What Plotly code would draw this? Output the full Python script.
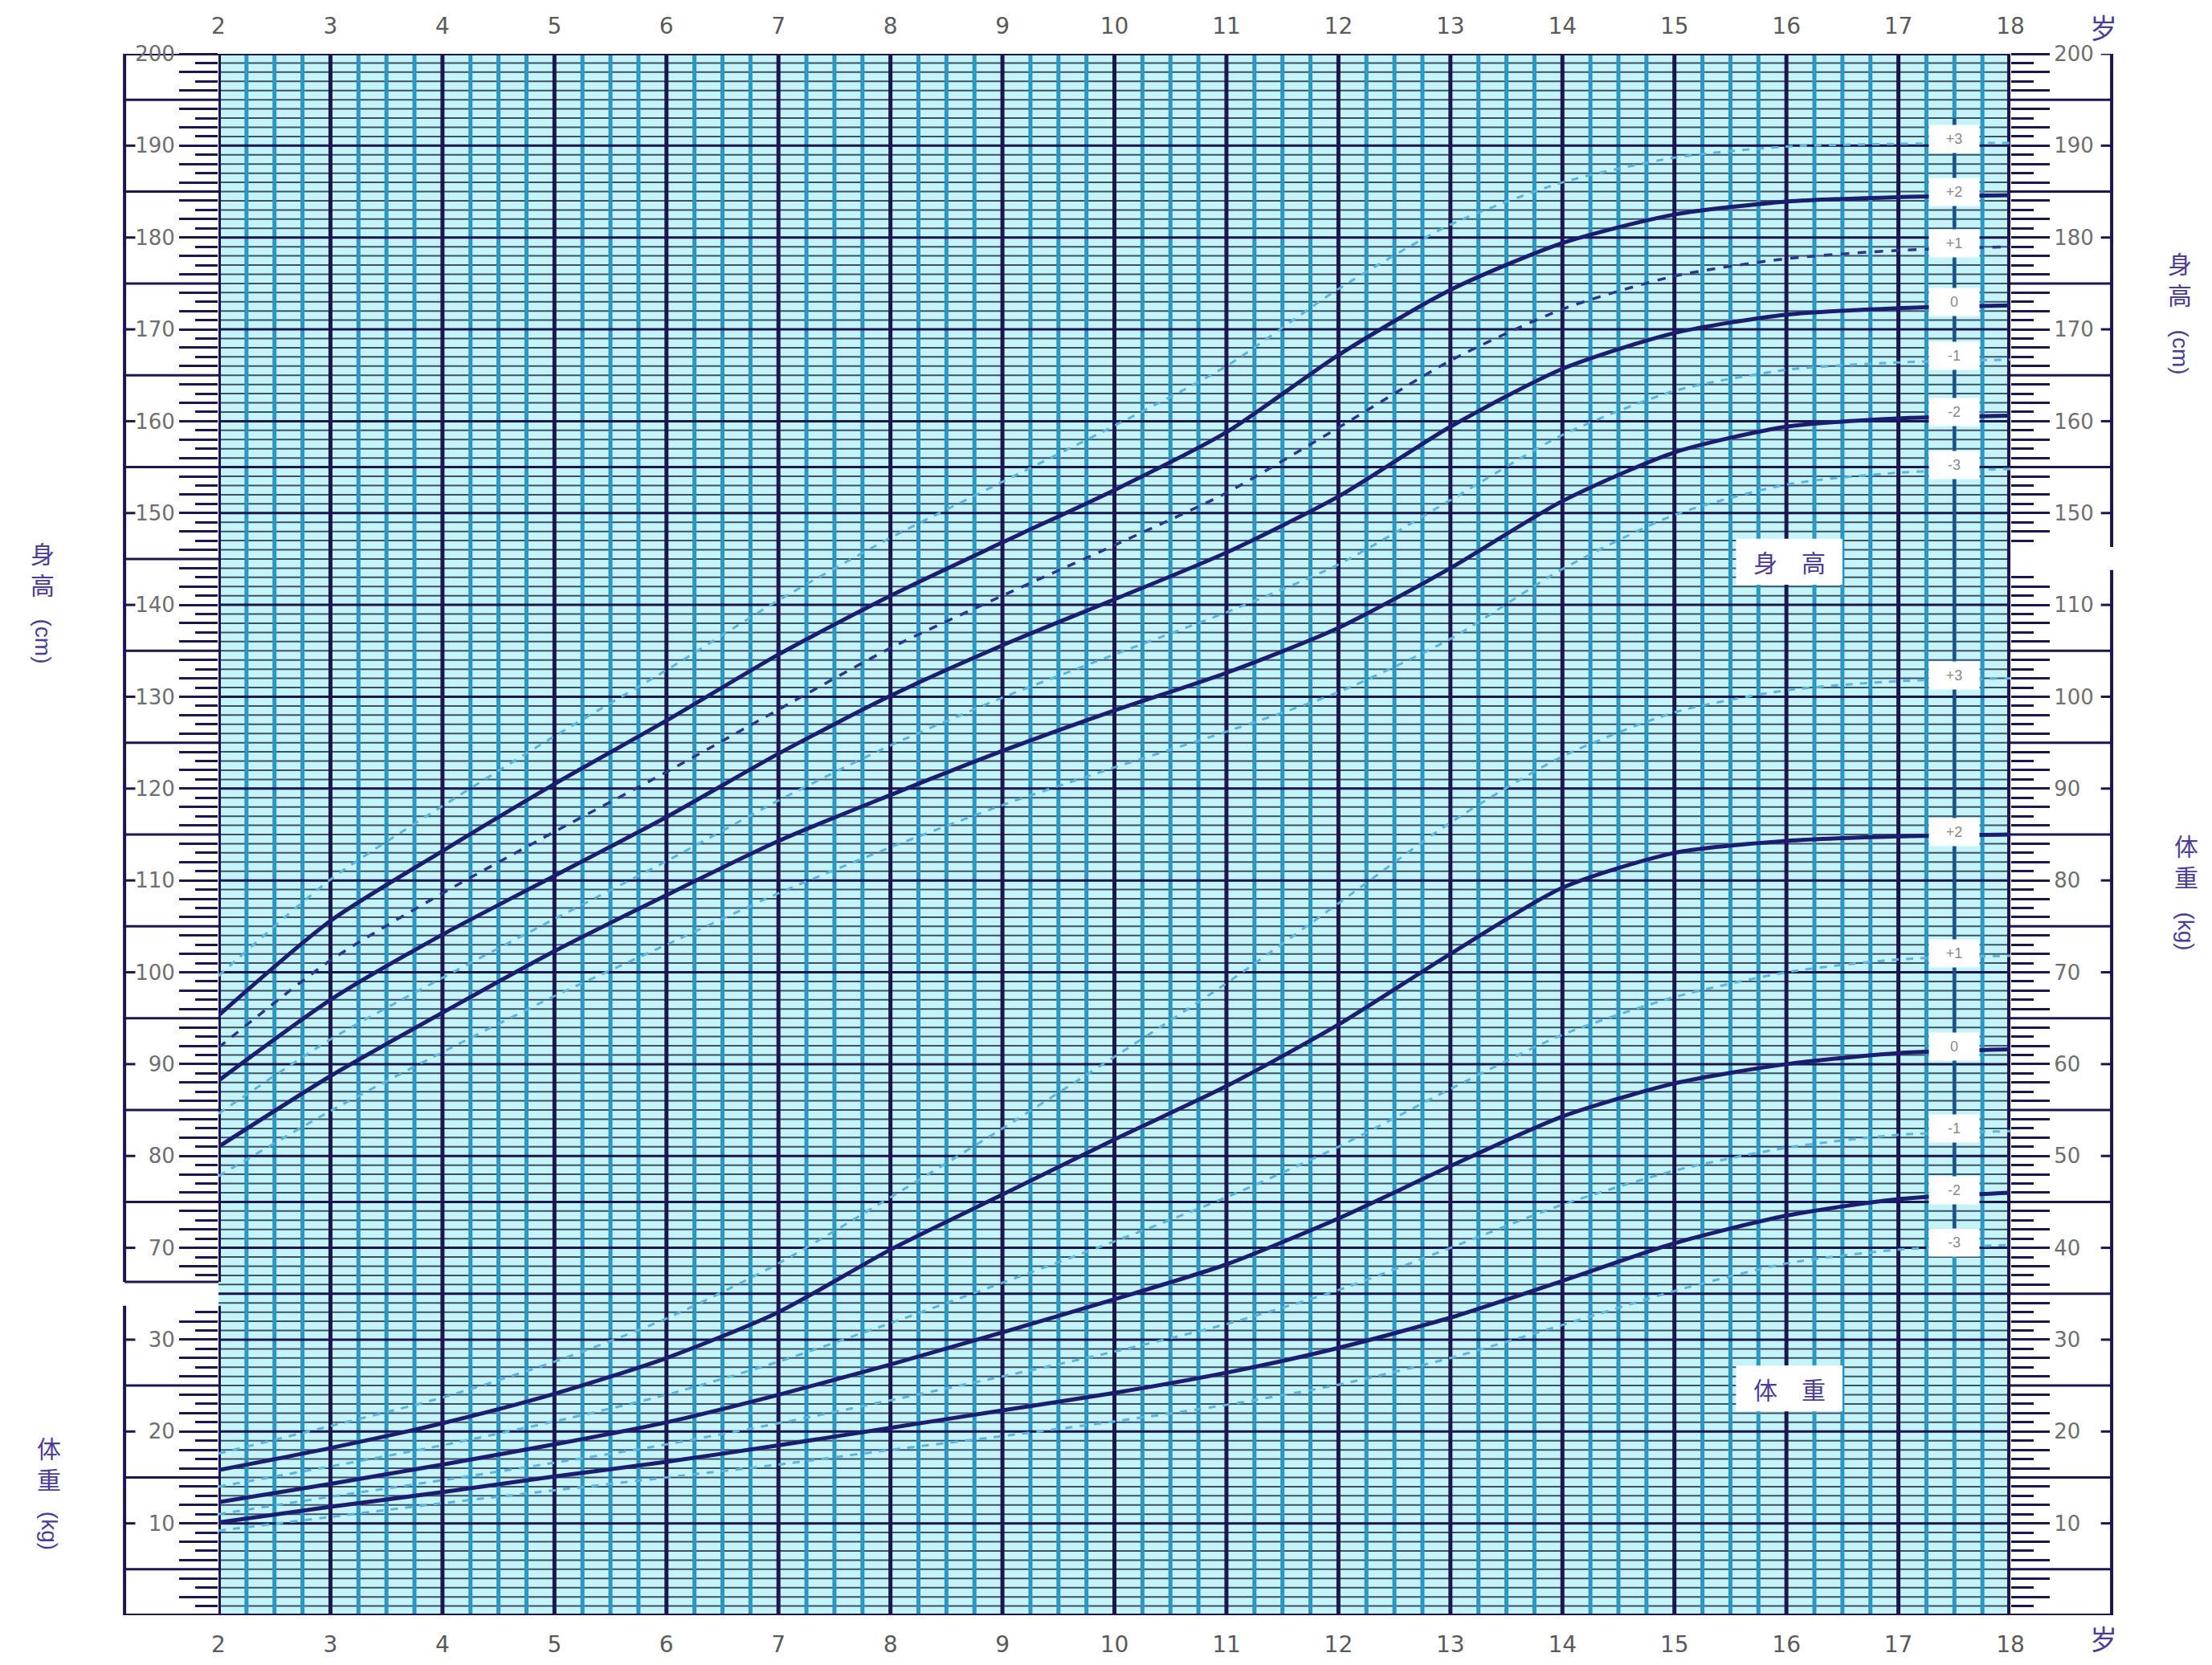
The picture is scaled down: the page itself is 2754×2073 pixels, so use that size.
import plotly.graph_objects as go

# Ages (years) at which the curves are read
ages = list(range(2, 19))
age_labels = [str(a) for a in ages]

# Height (cm), boys, SD lines
height_p3 = [99.6, 110.1, 118.1, 125.7, 132.9, 140.5, 147.3, 153.4, 159.5, 166.0, 174.4, 181.4, 186.0, 188.7, 189.9, 190.2, 190.3]
height_p2 = [95.3, 105.6, 113.2, 120.5, 127.4, 134.6, 141.0, 146.8, 152.5, 158.8, 167.2, 174.3, 179.4, 182.5, 183.9, 184.4, 184.6]
height_p1 = [91.8, 101.3, 108.6, 115.3, 121.8, 128.6, 135.3, 141.0, 146.5, 152.2, 159.3, 166.6, 172.2, 175.8, 177.7, 178.6, 179.0]
height_0 = [88.2, 97.0, 104.1, 110.5, 116.9, 123.8, 130.1, 135.6, 140.6, 145.7, 151.8, 159.4, 165.7, 169.6, 171.6, 172.3, 172.6]
height_m1 = [84.6, 92.7, 99.4, 105.8, 112.1, 118.7, 124.7, 129.9, 134.6, 139.2, 144.4, 151.4, 158.5, 163.3, 165.6, 166.4, 166.7]
height_m2 = [81.0, 88.7, 95.6, 102.3, 108.4, 114.3, 119.3, 124.1, 128.5, 132.6, 137.5, 144.0, 151.3, 156.6, 159.4, 160.3, 160.6]
height_m3 = [77.8, 84.9, 91.3, 97.4, 103.0, 108.6, 113.6, 118.2, 122.3, 126.2, 130.5, 136.3, 143.9, 149.8, 153.1, 154.4, 154.8]

# Weight (kg), boys, SD lines
weight_p3 = [17.6, 20.6, 23.7, 27.6, 32.3, 38.3, 45.5, 53.0, 60.8, 68.8, 77.5, 86.3, 93.5, 98.3, 100.7, 101.7, 102.0]
weight_p2 = [15.8, 18.2, 20.9, 24.1, 28.0, 33.0, 39.8, 45.8, 51.8, 57.6, 64.3, 72.0, 79.2, 83.0, 84.3, 84.8, 85.0]
weight_p1 = [14.0, 16.2, 18.5, 21.1, 24.0, 27.6, 31.8, 36.2, 40.7, 45.5, 51.0, 57.3, 63.2, 67.3, 70.0, 71.4, 71.8]
weight_0 = [12.3, 14.3, 16.4, 18.6, 21.0, 24.0, 27.3, 30.8, 34.4, 38.2, 43.2, 48.9, 54.3, 57.9, 60.0, 61.2, 61.6]
weight_m1 = [11.0, 12.9, 14.7, 16.6, 18.6, 20.9, 23.4, 26.0, 28.7, 31.7, 35.4, 40.0, 44.7, 48.4, 50.9, 52.3, 52.7]
weight_m2 = [10.1, 11.8, 13.4, 15.1, 16.7, 18.5, 20.4, 22.3, 24.2, 26.4, 29.1, 32.4, 36.4, 40.5, 43.5, 45.3, 46.0]
weight_m3 = [9.2, 10.7, 12.2, 13.6, 15.0, 16.4, 18.0, 19.5, 21.1, 22.9, 25.1, 28.0, 31.6, 35.3, 38.3, 39.8, 40.3]

sd_names = ["+3", "+2", "+1", "0", "-1", "-2", "-3"]
height_curves = [height_p3, height_p2, height_p1, height_0, height_m1, height_m2, height_m3]
weight_curves = [weight_p3, weight_p2, weight_p1, weight_0, weight_m1, weight_m2, weight_m3]

# colours
NAVY = "#1b1d70"
DARKDASH = "#2a3592"
LIGHT = "#5ab4e2"
GRID = "#3d5063"
TEAL = "#2b96c2"
FRAME = "#1a1650"
TXT = "#4b3c96"

solid = dict(color=NAVY, width=5)
dark_dash = dict(color=DARKDASH, width=3.5, dash="dash")
light_dash = dict(color=LIGHT, width=3, dash="dash")
height_styles = [light_dash, solid, dark_dash, solid, light_dash, solid, light_dash]
weight_styles = [light_dash, solid, light_dash, solid, light_dash, solid, light_dash]

fig = go.Figure()

# height on the left (cm) axis
for name, ys, st in zip(sd_names, height_curves, height_styles):
    fig.add_trace(go.Scatter(
        x=ages, y=ys, mode="lines", name="身高 " + name,
        line=dict(shape="spline", smoothing=0.7, **st),
        xaxis="x", yaxis="y", showlegend=False
    ))

# weight on the right (kg) axis
for name, ys, st in zip(sd_names, weight_curves, weight_styles):
    fig.add_trace(go.Scatter(
        x=ages, y=ys, mode="lines", name="体重 " + name,
        line=dict(shape="spline", smoothing=0.7, **st),
        xaxis="x2", yaxis="y2", showlegend=False
    ))

# ---- background grid drawn as shapes (below the curves) ----
shapes = []
XL, XR = -0.0524, 1.0565  # outer ruler lines (x domain units)


def hline(v, x0=0, x1=1, color=FRAME, width=3):
    return dict(type="line", xref="x domain", yref="y", x0=x0, x1=x1, y0=v, y1=v,
                line=dict(color=color, width=width), layer="below")


def vline(a, color, width, y0=None, y1=None):
    if y0 is None:
        return dict(type="line", xref="x", yref="y domain", x0=a, x1=a, y0=0, y1=1,
                    line=dict(color=color, width=width), layer="below")
    return dict(type="line", xref="x", yref="y", x0=a, x1=a, y0=y0, y1=y1,
                line=dict(color=color, width=width), layer="below")


# 1 cm lines
for v in range(31, 200):
    shapes.append(hline(v, color=GRID, width=2))

# quarter-year lines
for a in range(2, 18):
    for q in (0.25, 0.5, 0.75):
        shapes.append(vline(a + q, TEAL, 5))

# darker line through the SD label column
shapes.append(vline(17.5, "#1f4e85", 4, 70, 193))

# major horizontal lines every 10 (plus a few emphasised ones)
for v in list(range(40, 200, 10)) + [155, 75, 65]:
    shapes.append(hline(v))

# white boxes behind 身高 / 体重
for yc in (144.7, 54.7):
    shapes.append(dict(type="rect", xref="x", yref="y", x0=15.55, x1=16.5, y0=yc - 2.5, y1=yc + 2.5,
                       fillcolor="white", line=dict(width=0), layer="below"))

# year lines
for a in range(3, 18):
    shapes.append(vline(a, FRAME, 5))
for y0, y1 in ((66.3, 200), (30, 63.7)):
    shapes.append(vline(2, FRAME, 6, y0, y1))
shapes.append(vline(18, FRAME, 8))

# borders, outer ruler axes
shapes.append(hline(200, XL, 1, width=4))
shapes.append(hline(30, XL, XR, width=4))
for xx, segs in ((XL, ((66.3, 200), (30, 63.7))), (XR, ((146.3, 200), (30, 143.8)))):
    for y0, y1 in segs:
        shapes.append(dict(type="line", xref="x domain", yref="y", x0=xx, x1=xx, y0=y0, y1=y1,
                           line=dict(color=FRAME, width=4)))

# ruler: full lines at the fives
left_fives = list(range(195, 70, -10)) + [66.3, 55, 45, 35]
right_fives = list(range(195, 150, -10)) + list(range(135, 30, -10))
for v in left_fives:
    shapes.append(hline(v, XL, 0))
for v in right_fives:
    shapes.append(hline(v, 1, XR))
# small stubs next to the labels
for v in list(range(200, 60, -10)) + [60, 50, 40]:
    shapes.append(hline(v, XL, XL + 0.006))
for v in list(range(200, 140, -10)) + list(range(140, 30, -10)):
    shapes.append(hline(v, XR - 0.006, XR))

# ---- tick values / labels for the rulers ----
# left axis in cm (lower part relabelled as kg = cm - 30)
left_major = [v for v in range(32, 201, 2) if v <= 62 or v >= 68]
left_minor = [v for v in range(31, 200, 2) if (v <= 63 or v >= 67) and v % 5 != 0]
left_text = []
for v in left_major:
    if v % 10 != 0:
        left_text.append("")
    elif v >= 68:
        left_text.append(str(v))
    else:
        left_text.append(str(v - 30))

# right axis in kg (upper part relabelled as cm = kg + 30)
right_major = [v for v in range(2, 171, 2) if v <= 112 or v >= 118]
right_minor = [v for v in range(1, 170, 2) if (v <= 113 or v >= 117) and v % 5 != 0]
right_text = []
for v in right_major:
    if v % 10 != 0:
        right_text.append("")
    elif v >= 118:
        right_text.append(str(v + 30))
    else:
        right_text.append(str(v))

tickfont = dict(family="DejaVu Sans, Liberation Sans", size=26, color="#6e6e6e")
agefont = dict(family="DejaVu Sans, Liberation Sans", size=28, color="#5a5a5a")

ruler_common = dict(ticks="outside", ticklen=48, tickwidth=3, tickcolor=FRAME,
                    showgrid=False, zeroline=False, showline=False, tickfont=tickfont,
                    tickmode="array", automargin=False)

fig.update_layout(
    width=2738, height=2057,
    margin=dict(l=264, r=243, t=59, b=54, pad=0, autoexpand=False),
    paper_bgcolor="white",
    plot_bgcolor="#c4f3fa",
    showlegend=False,
    xaxis=dict(range=[2, 18], tickmode="array", tickvals=ages, ticktext=age_labels,
               ticks="outside", ticklen=11, tickcolor="rgba(0,0,0,0)", automargin=False,
               showgrid=False, zeroline=False, showline=False, tickfont=agefont),
    xaxis2=dict(range=[2, 18], overlaying="x", side="top", anchor="y", tickmode="array",
                tickvals=ages, ticktext=age_labels, ticks="outside", ticklen=13,
                tickcolor="rgba(0,0,0,0)", showgrid=False, zeroline=False, showline=False,
                tickfont=agefont, automargin=False),
    yaxis=dict(range=[30, 200], tickvals=left_major, ticktext=left_text,
               minor=dict(tickmode="array", tickvals=left_minor, ticks="outside", ticklen=28,
                          tickwidth=3, tickcolor=FRAME, showgrid=False),
               **ruler_common),
    yaxis2=dict(range=[0, 170], overlaying="y", side="right", anchor="x2",
                tickvals=right_major, ticktext=right_text,
                minor=dict(tickmode="array", tickvals=right_minor, ticks="outside", ticklen=28,
                           tickwidth=3, tickcolor=FRAME, showgrid=False),
                **ruler_common),
    shapes=shapes,
)

# ---- annotations ----
ann = []
cjk = "Noto Sans CJK SC"
centre = dict(xanchor="center", yanchor="middle", showarrow=False)

# axis titles
for xp, yc_chars, yc_unit, chars, unit in (
        (-0.098, 144.0, 136.0, "身<br>高", "(cm)"),
        (1.0946, 175.6, 167.5, "身<br>高", "(cm)"),
        (-0.0946, 46.6, 39.2, "体<br>重", "(kg)"),
        (1.098, 112.2, 104.5, "体<br>重", "(kg)")):
    ann.append(dict(xref="paper", yref="y", x=xp, y=yc_chars, text=chars,
                    font=dict(family=cjk, size=30, color=TXT), **centre))
    ann.append(dict(xref="paper", yref="y", x=xp, y=yc_unit, text=unit, textangle=90,
                    font=dict(family="Liberation Sans, Arial", size=28, color=TXT), **centre))

# 岁
for yp in (1.017, -0.0145):
    ann.append(dict(xref="paper", yref="paper", x=1.052, y=yp, text="岁",
                    font=dict(family=cjk, size=34, color=TXT), **centre))

# in-plot labels
ann.append(dict(xref="x", yref="y", x=16.03, y=144.7, text="身　高",
                font=dict(family=cjk, size=30, color=TXT), **centre))
ann.append(dict(xref="x", yref="y2", x=16.03, y=24.7, text="体　重",
                font=dict(family=cjk, size=30, color=TXT), **centre))

# SD labels at the right end of each curve
for name, ys in zip(sd_names, height_curves):
    ann.append(dict(xref="x", yref="y", x=17.5, y=ys[-1] + 0.4, text=name,
                    bgcolor="white", width=62, height=34, borderpad=0,
                    font=dict(family="Liberation Sans, Arial", size=18, color="#8a8a8a"), **centre))
for name, ys in zip(sd_names, weight_curves):
    ann.append(dict(xref="x", yref="y2", x=17.5, y=ys[-1] + 0.3, text=name,
                    bgcolor="white", width=62, height=34, borderpad=0,
                    font=dict(family="Liberation Sans, Arial", size=18, color="#8a8a8a"), **centre))

fig.update_layout(annotations=ann)

fig.write_html("out.html")
